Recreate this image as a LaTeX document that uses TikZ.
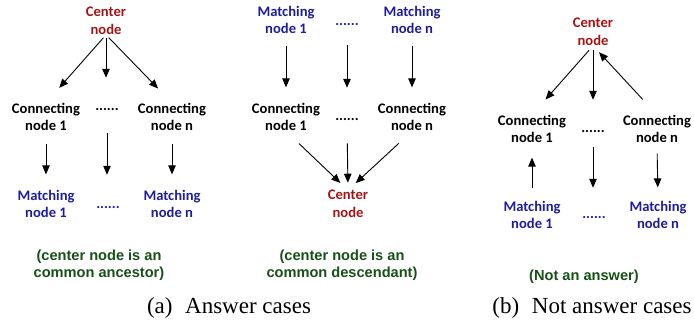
\documentclass[tikz,border=0pt]{standalone}
\usepackage{fontspec}
\setmainfont{Carlito}
\newfontfamily\capfont{Liberation Serif}
\newfontfamily\notefont{Liberation Sans}
\usetikzlibrary{arrows.meta}
\definecolor{cred}{RGB}{165,20,20}
\definecolor{cblue}{RGB}{30,30,155}
\definecolor{cgreen}{RGB}{22,80,22}
\begin{document}
\begin{tikzpicture}[x=1pt,y=-1pt,
  lbl/.style={font=\bfseries\fontsize{14.6}{17.5}\selectfont, align=center, inner sep=0pt},
  cen/.style={lbl, text=cred},
  con/.style={lbl, text=black},
  mat/.style={lbl, text=cblue},
  dts/.style={lbl, anchor=base},
  note/.style={font=\notefont\bfseries\fontsize{14.6}{17}\selectfont, align=center, inner sep=0pt, text=cgreen},
  captxt/.style={font=\capfont\fontsize{23}{27}\selectfont, anchor=base, inner sep=0pt},
  arr/.style={-{Triangle[length=9pt,width=7.5pt]}, line width=0.9pt}]
\useasboundingbox (0,0) rectangle (694,325);
% ---------- panel 1 ----------
\node[cen] (c1) at (106,21) {Center\\node};
\node[con] (k1a) at (46,117) {Connecting\\node 1};
\node[dts] (d1a) at (107,110) {......};
\node[con] (k1b) at (172,117) {Connecting\\node n};
\node[mat] (m1a) at (46,204) {Matching\\node 1};
\node[dts, text=cblue] (d1b) at (108,208) {......};
\node[mat] (m1b) at (172,204) {Matching\\node n};
\node[note] (n1) at (99,265) {(center node is an\\common ancestor)};
\draw[arr, shorten <=4pt, shorten >=20pt] (c1.south) -- (k1a.north);
\draw[arr, shorten <=3.5pt, shorten >=30pt] (c1.south) -- (c1.south |- d1a.north);
\draw[arr, shorten <=4pt, shorten >=20pt] (c1.south) -- (k1b.north);
\draw[arr, shorten <=12.5pt, shorten >=15.5pt] (k1a.south) -- (m1a.north);
\draw[arr, shorten <=23pt, shorten >=31pt] (d1a.south) -- (d1a.south |- d1b.north);
\draw[arr, shorten <=12.5pt, shorten >=15.5pt] (k1b.south) -- (m1b.north);
% ---------- panel 2 ----------
\node[mat] (m2a) at (286,20) {Matching\\node 1};
\node[dts, text=cblue] (d2a) at (347,25) {......};
\node[mat] (m2b) at (412,20) {Matching\\node n};
\node[con] (k2a) at (286,117) {Connecting\\node 1};
\node[dts] (d2b) at (347,120) {......};
\node[con] (k2b) at (412,117) {Connecting\\node n};
\node[cen] (c2) at (348,204) {Center\\node};
\node[note] (n2) at (342,265) {(center node is an\\common descendant)};
\draw[arr, shorten <=11.5pt, shorten >=15.5pt] (m2a.south) -- (k2a.north);
\draw[arr, shorten <=20pt, shorten >=30pt] (d2a.south) -- (d2b.north);
\draw[arr, shorten <=11.5pt, shorten >=15.5pt] (m2b.south) -- (k2b.north);
\draw[arr, shorten <=18pt, shorten >=10.5pt] (k2a.south) -- (c2.north);
\draw[arr, shorten <=23pt, shorten >=7.5pt] (d2b.south) -- (c2.north);
\draw[arr, shorten <=18pt, shorten >=10.5pt] (k2b.south) -- (c2.north);
% ---------- panel 3 ----------
\node[cen] (c3) at (593,32) {Center\\node};
\node[con] (k3a) at (532,129) {Connecting\\node 1};
\node[dts] (d3a) at (593,132) {......};
\node[con] (k3b) at (657,129) {Connecting\\node n};
\node[mat] (m3a) at (532,215) {Matching\\node 1};
\node[dts, text=cblue] (d3b) at (594,218) {......};
\node[mat] (m3b) at (658,215) {Matching\\node n};
\node[note] (n3) at (584,277) {(Not an answer)};
\draw[arr, shorten <=6pt, shorten >=20.5pt] (c3.south) -- (k3a.north);
\draw[arr, shorten <=4.5pt, shorten >=30pt] (c3.south) -- (c3.south |- d3a.north);
\draw[arr, shorten <=21pt, shorten >=8.8pt] (k3b.north) -- (c3.south);
\draw[arr, shorten <=12.5pt, shorten >=14.5pt] (m3a.north) -- (k3a.south);
\draw[arr, shorten <=15pt, shorten >=28pt] (d3a.south) -- (d3a.south |- d3b.north);
\draw[arr, shorten <=10.5pt, shorten >=13.5pt] (k3b.south) -- (m3b.north);
% ---------- captions ----------
\node[captxt] (capa) at (229,313) {(a)\hspace{0.55em}Answer cases};
\node[captxt] (capb) at (592,313) {(b)\hspace{0.55em}Not answer cases};
\end{tikzpicture}
\end{document}
